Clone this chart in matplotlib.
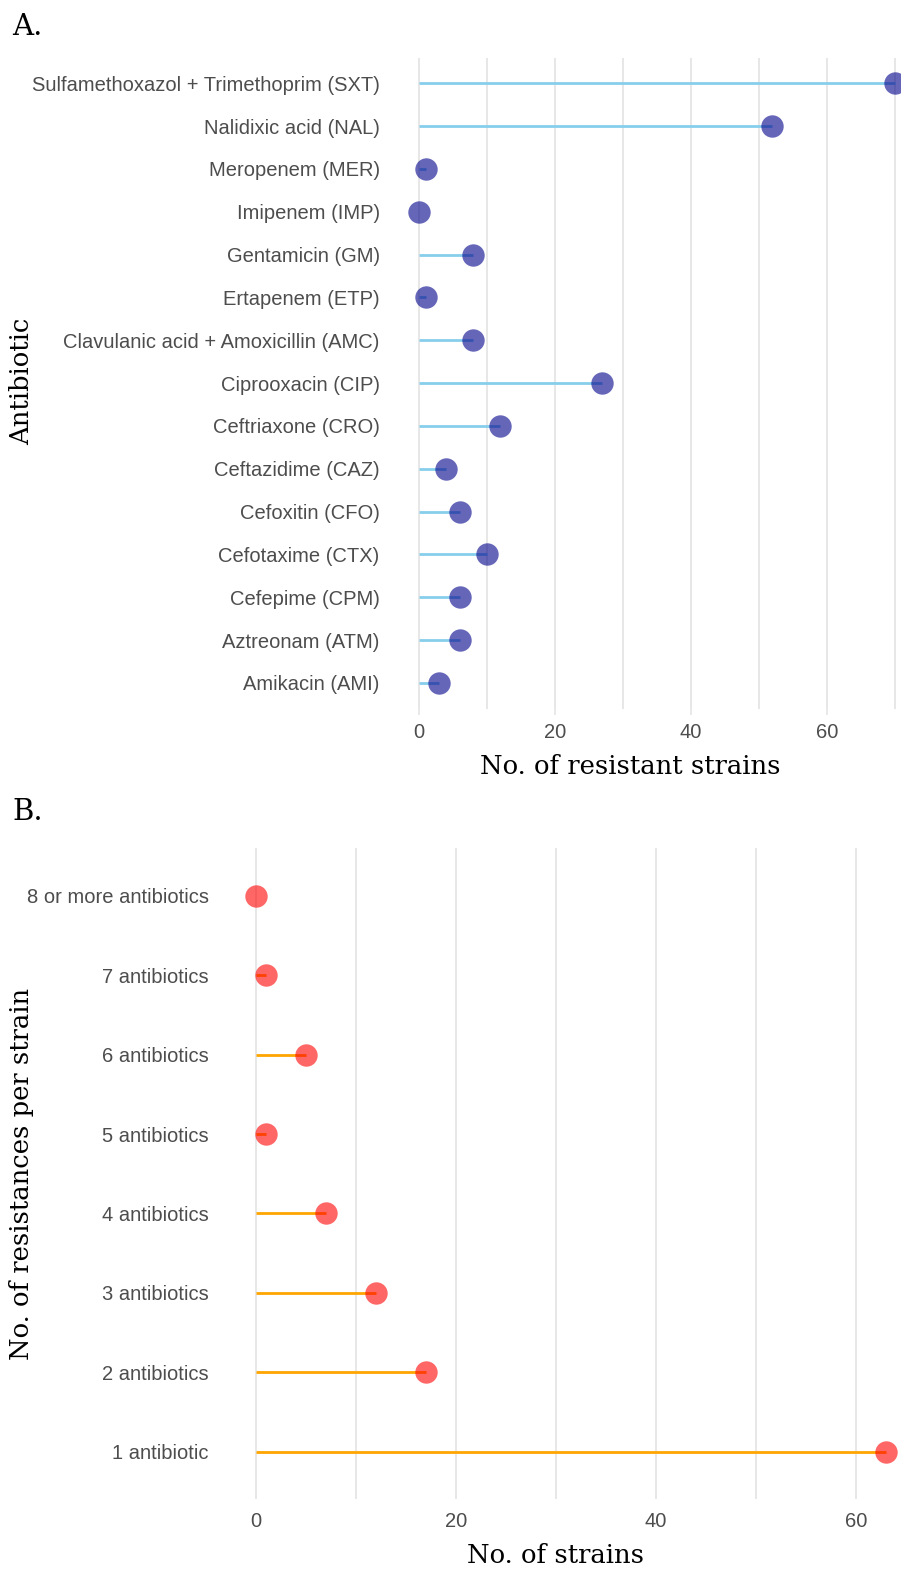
import numpy as np
import matplotlib
matplotlib.use('Agg')
import matplotlib.pyplot as plt

# panel A data (top to bottom)
antibiotics = ['Sulfamethoxazol + Trimethoprim (SXT)', 'Nalidixic acid (NAL)',
               'Meropenem (MER)', 'Imipenem (IMP)', 'Gentamicin (GM)',
               'Ertapenem (ETP)', 'Clavulanic acid + Amoxicillin (AMC)',
               'Ciprooxacin (CIP)', 'Ceftriaxone (CRO)', 'Ceftazidime (CAZ)',
               'Cefoxitin (CFO)', 'Cefotaxime (CTX)', 'Cefepime (CPM)',
               'Aztreonam (ATM)', 'Amikacin (AMI)']
resistant = [70, 52, 1, 0, 8, 1, 8, 27, 12, 4, 6, 10, 6, 6, 3]

# panel B data (top to bottom)
n_resist = ['8 or more antibiotics', '7 antibiotics', '6 antibiotics',
            '5 antibiotics', '4 antibiotics', '3 antibiotics',
            '2 antibiotics', '1 antibiotic']
n_strains = [0, 1, 5, 1, 7, 12, 17, 63]

W, H = 901, 1573
TICKFONT = 'Liberation Sans'
TITLEFONT = 'DejaVu Serif'
GRID = '#E5E5E5'


def px_axes(fig, left, top, right, bottom):
    return fig.add_axes([left / W, 1 - bottom / H, (right - left) / W, (bottom - top) / H])


def lollipop(ax, labels, values, xlim, line_col, pt_col, xlabel, ylabel, ticks=True,
             ycenter=0.5, xlab_x=0.5):
    n = len(labels)
    y = np.arange(n)[::-1]
    for yi, v in zip(y, values):
        if v > 0:
            ax.plot([0, v], [yi, yi], color=line_col, lw=2.0, zorder=2, solid_capstyle='butt')
    ax.scatter(values, y, s=260, color=pt_col, alpha=0.6, zorder=3, linewidths=0)
    ax.set_yticks(y)
    ax.set_yticklabels(labels, fontsize=14.5, color='#4D4D4D', family=TICKFONT)
    ax.set_xticks([0, 20, 40, 60])
    ax.set_xticks([10, 30, 50, 70], minor=True)
    ax.set_xlim(*xlim)
    ax.set_ylim(-0.6, n - 0.4)
    for lab in ax.get_xticklabels():
        lab.set_family(TICKFONT)
    ax.tick_params(axis='x', labelsize=14.5, labelcolor='#4D4D4D', color=GRID,
                   length=4 if ticks else 0, width=1.2, pad=6 if ticks else 9)
    ax.tick_params(axis='x', which='minor', length=0)
    ax.tick_params(axis='y', length=0, pad=11)
    ax.grid(axis='x', which='both', color=GRID, lw=1.3, zorder=0)
    ax.set_axisbelow(True)
    for s in ax.spines.values():
        s.set_visible(False)
    ax.set_xlabel(xlabel, fontsize=18.6, family=TITLEFONT, color='black', labelpad=9)
    ax.xaxis.label.set_x(xlab_x)
    ax.set_ylabel(ylabel, fontsize=18.6, family=TITLEFONT, color='black')
    ax.yaxis.set_label_coords(34 / W, 1 - ycenter / H, transform=ax.figure.transFigure)


fig = plt.figure(figsize=(W / 100, H / 100), dpi=100)

axA = px_axes(fig, 395, 57.6, 901, 708.7)
lollipop(axA, antibiotics, resistant, (-3.5, 70.9), '#87CEEB', 'darkblue',
         'No. of resistant strains', 'Antibiotic', ycenter=381, xlab_x=0.465)

axB = px_axes(fig, 224, 848.3, 901, 1499.2)
lollipop(axB, n_resist, n_strains, (-3.15, 64.5), 'orange', 'red',
         'No. of strains', 'No. of resistances per strain', ticks=False,
         ycenter=1174, xlab_x=0.489)

fig.text(12 / W, 1 - 35 / H, 'A.', fontsize=21, family=TITLEFONT, va='baseline')
fig.text(12 / W, 1 - 820 / H, 'B.', fontsize=21, family=TITLEFONT, va='baseline')

fig.savefig('out.png', dpi=100)
